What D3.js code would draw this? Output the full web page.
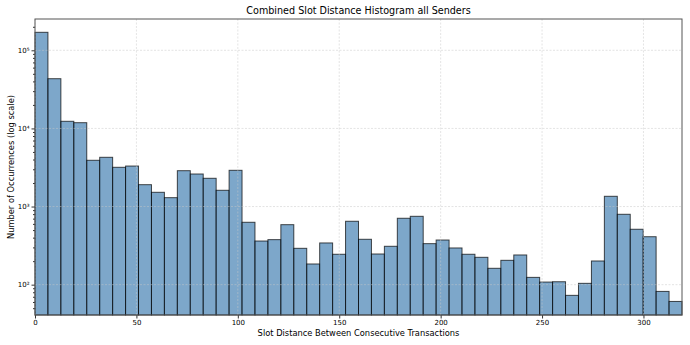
<!DOCTYPE html>
<html><head><meta charset="utf-8">
<script src="https://cdn.jsdelivr.net/npm/d3@7"></script>
<style>body{margin:0;background:#fff}svg{display:block;font-family:"DejaVu Sans",sans-serif}</style>
</head><body>
<svg id="c" width="690" height="345"></svg>
<script>
const binCount = 50;
const xMax = 319;
const counts = [170000, 43300, 12340, 11840, 3910, 4270, 3180, 3300, 1905, 1522,
  1299, 2877, 2610, 2300, 1615, 2910, 629, 362, 377, 586,
  292, 184, 342, 245, 648, 381, 247, 310, 708, 750,
  335, 373, 295, 245, 224, 162, 205, 240, 124, 108,
  109, 73, 104, 201, 1353, 796, 512, 411, 82, 61];
const xTicks = [0, 50, 100, 150, 200, 250, 300];
const yTicks = [1e2, 1e3, 1e4, 1e5];
const sup = {"2":"²","3":"³","4":"⁴","5":"⁵"};

const m = {l:35, r:8, t:19, b:30};
const W = 690, H = 345;
const svg = d3.select("#c");
const x = d3.scaleLinear().domain([0, xMax]).range([m.l, W - m.r]);
const y = d3.scaleLog().domain([40.9, 251600]).range([H - m.b, m.t]);
const bw = xMax / binCount;
const bins = counts.map((c, i) => ({x0: i * bw, x1: (i + 1) * bw, c}));

svg.append("g").selectAll("rect").data(bins).join("rect")
  .attr("x", d => x(d.x0)).attr("width", d => x(d.x1) - x(d.x0))
  .attr("y", d => y(d.c)).attr("height", d => y.range()[0] - y(d.c))
  .attr("fill", "steelblue").attr("fill-opacity", 0.7)
  .attr("stroke", "black").attr("stroke-opacity", 0.7).attr("stroke-width", 1);

// grid (above bars)
const g = svg.append("g").attr("stroke", "#c8c8c8").attr("stroke-opacity", 0.7)
  .attr("stroke-dasharray", "2,1.5").attr("stroke-width", 0.7);
g.selectAll(".gx").data(xTicks).join("line")
  .attr("x1", d => x(d)).attr("x2", d => x(d)).attr("y1", m.t).attr("y2", H - m.b);
g.selectAll(".gy").data(yTicks).join("line")
  .attr("x1", m.l).attr("x2", W - m.r).attr("y1", d => y(d)).attr("y2", d => y(d));

// axes
svg.append("g").attr("transform", `translate(0,${H - m.b})`)
  .call(d3.axisBottom(x).tickValues(xTicks).tickSize(3.5).tickPadding(2).tickFormat(d3.format("d")));
const minor = [];
for (let e = 1; e <= 5; e++) for (let k = 2; k <= 9; k++) { const v = k * Math.pow(10, e); if (v > 40.9 && v < 251600) minor.push(v); }
svg.append("g").attr("transform", `translate(${m.l},0)`)
  .call(d3.axisLeft(y).tickValues(minor).tickSize(2).tickFormat(""));
svg.append("g").attr("transform", `translate(${m.l},0)`)
  .call(d3.axisLeft(y).tickValues(yTicks).tickSize(3.5).tickPadding(2).tickFormat(d => "10" + sup[Math.round(Math.log10(d))]));
svg.selectAll(".domain").remove();
svg.selectAll(".tick line").attr("stroke", "#333");
svg.selectAll(".tick text").attr("font-size", 7).attr("fill", "#000").attr("font-family", "DejaVu Sans");

// frame
svg.append("rect").attr("x", m.l).attr("y", m.t).attr("width", W - m.r - m.l).attr("height", H - m.b - m.t)
  .attr("fill", "none").attr("stroke", "#555").attr("stroke-width", 1);

svg.append("text").attr("x", (m.l + W - m.r) / 2).attr("y", 14).attr("text-anchor", "middle")
  .attr("font-size", 9.6).text("Combined Slot Distance Histogram all Senders");
svg.append("text").attr("x", (m.l + W - m.r) / 2).attr("y", 336).attr("text-anchor", "middle")
  .attr("font-size", 8.3).text("Slot Distance Between Consecutive Transactions");
svg.append("text").attr("transform", `translate(14,${(m.t + H - m.b) / 2}) rotate(-90)`).attr("text-anchor", "middle")
  .attr("font-size", 8.3).text("Number of Occurrences (log scale)");
</script>
</body></html>
